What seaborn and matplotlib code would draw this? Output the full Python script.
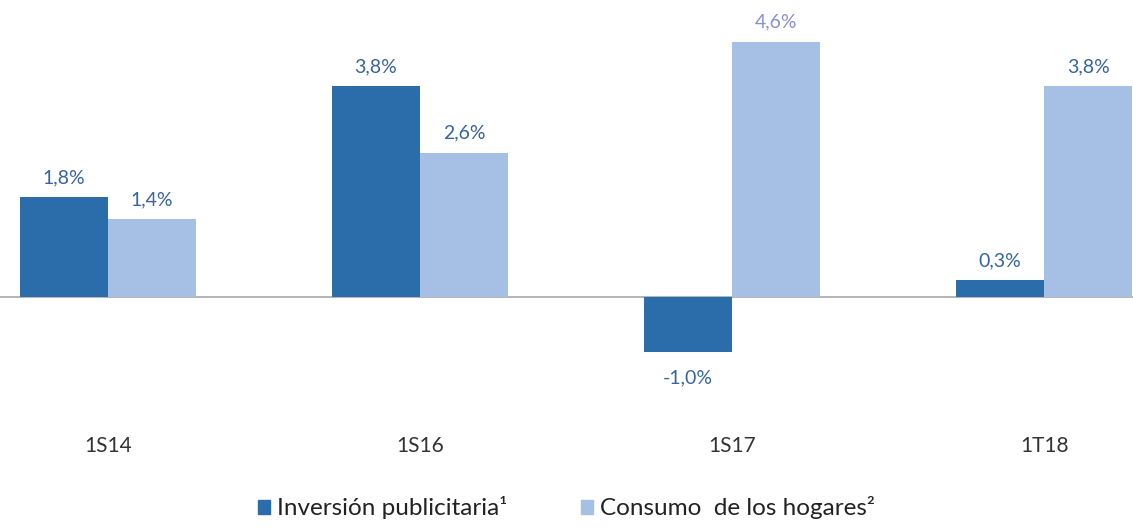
import numpy as np
import matplotlib
matplotlib.use("Agg")
import matplotlib.pyplot as plt
import seaborn as sns
import pandas as pd

periods = ["1S14", "1S16", "1S17", "1T18"]
inversion = [1.8, 3.8, -1.0, 0.3]
consumo = [1.4, 2.6, 4.6, 3.8]
series_names = ["Inversión publicitaria¹", "Consumo  de los hogares²"]

dark = "#2b6dab"
light = "#a5c0e4"
label_color = "#3563a3"

df = pd.DataFrame({
    "periodo": periods * 2,
    "serie": [series_names[0]] * 4 + [series_names[1]] * 4,
    "valor": inversion + consumo,
})

sns.set_style("white")
plt.rcParams["font.family"] = ["Lato", "DejaVu Sans"]

fig = plt.figure(figsize=(11.33, 5.28), dpi=100)
ax = fig.add_axes([0, 1 - 400 / 528, 1, 390 / 528])

sns.barplot(data=df, x="periodo", y="valor", hue="serie", order=periods,
            hue_order=series_names, palette=[dark, light], width=0.565,
            gap=0, saturation=1, linewidth=0, ax=ax, legend=False)

ax.set_xlim(-0.346, 3.285)
ax.set_ylim(-1.856, 5.17)
ax.axhline(0, color="#a8a8a8", lw=1.2, zorder=0)

for i, cont in enumerate(ax.containers):
    vals = inversion if i == 0 else consumo
    for bar, v in zip(cont, vals):
        x = bar.get_x() + bar.get_width() / 2
        txt = f"{v:.1f}%".replace(".", ",")
        col = "#8a8fd6" if v == 4.6 else label_color
        if v >= 0:
            ax.text(x, v + 0.2, txt, ha="center", va="bottom", fontsize=14, color=col)
        else:
            ax.text(x, v - 0.3, txt, ha="center", va="top", fontsize=14, color=col)

ax.set_xlabel("")
ax.set_ylabel("")
ax.set_yticks([])
ax.tick_params(axis="x", length=0, pad=26, labelsize=15, labelcolor="#333333")
sns.despine(ax=ax, left=True, bottom=True)

handles = [plt.Rectangle((0, 0), 1, 1, color=dark), plt.Rectangle((0, 0), 1, 1, color=light)]
fig.legend(handles, series_names, loc="lower center", bbox_to_anchor=(0.5, -0.025), ncol=2,
           frameon=False, fontsize=17.5, handlelength=0.5, handleheight=0.5,
           handletextpad=0.3, columnspacing=3.0, labelcolor="#222222")

fig.savefig("out.png", dpi=100)
